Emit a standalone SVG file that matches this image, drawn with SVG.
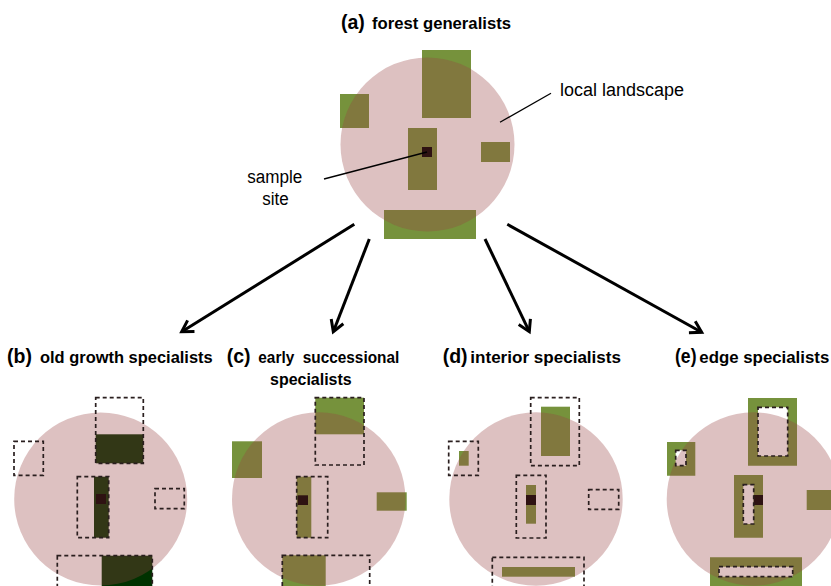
<svg xmlns="http://www.w3.org/2000/svg" width="831" height="586" viewBox="0 0 831 586">
<style>
.g{fill:#76923C}
.dk{fill:#003200}
.c{fill:#994242;fill-opacity:0.33}
.s{fill:#2E1212}
.d{fill:none;stroke:#2a1f1f;stroke-width:1.7;stroke-dasharray:4 3}
.fr{fill:#76923C;fill-rule:evenodd}
.t{font-family:"Liberation Sans",Arial,sans-serif;font-weight:bold;fill:#000}
.p{font-size:19.5px}
.h{font-size:16.5px}
.l{font-family:"Liberation Sans",Arial,sans-serif;font-size:18px;fill:#000}
.ar{fill:none;stroke:#000;stroke-width:3}
.ld{fill:none;stroke:#000;stroke-width:1.3}
</style>
<defs>
<marker id="ah" markerUnits="userSpaceOnUse" markerWidth="20" markerHeight="20" viewBox="-14 -10 20 20" refX="0" refY="0" orient="auto">
<path d="M-11,-6.5 L0,0 L-11,6.5" fill="none" stroke="#000" stroke-width="3"/>
</marker>
</defs>

<g id="titles">
<text class="t" y="29"><tspan class="p" x="341">(a)</tspan><tspan class="h" x="372" textLength="139" lengthAdjust="spacingAndGlyphs">forest generalists</tspan></text>
<text class="t" y="363.3"><tspan class="p" x="7">(b)</tspan><tspan class="h" x="40" textLength="172.7" lengthAdjust="spacingAndGlyphs">old growth specialists</tspan></text>
<text class="t" y="363.3" xml:space="preserve"><tspan class="p" x="226.7">(c)</tspan><tspan class="h" x="258.3" textLength="141" lengthAdjust="spacingAndGlyphs">early  successional</tspan></text>
<text class="t h" x="270" y="384.5" textLength="81.7" lengthAdjust="spacingAndGlyphs">specialists</text>
<text class="t" y="363.3"><tspan class="p" x="442.7">(d)</tspan><tspan class="h" x="470.3" textLength="150.7" lengthAdjust="spacingAndGlyphs">interior specialists</tspan></text>
<text class="t" y="363.3"><tspan class="p" x="675" textLength="21.5" lengthAdjust="spacingAndGlyphs">(e)</tspan><tspan class="h" x="699.3" textLength="130" lengthAdjust="spacingAndGlyphs">edge specialists</tspan></text>
</g>

<g id="panel-a">
<rect class="g" x="422" y="50" width="49" height="68"/>
<rect class="g" x="340" y="94" width="29" height="34"/>
<rect class="g" x="408" y="128" width="29" height="62"/>
<rect class="g" x="481" y="142" width="29" height="20"/>
<rect class="g" x="384" y="210" width="92" height="29"/>
<circle class="c" cx="427.5" cy="144.5" r="87"/>
<rect class="s" x="422" y="147" width="10" height="10"/>
</g>

<g id="labels-a">
<text class="l" x="560" y="96" textLength="124" lengthAdjust="spacingAndGlyphs">local landscape</text>
<text class="l" x="247.3" y="183.3" textLength="55" lengthAdjust="spacingAndGlyphs">sample</text>
<text class="l" x="262.3" y="205" textLength="26.4" lengthAdjust="spacingAndGlyphs">site</text>
<line class="ld" x1="500" y1="122.3" x2="551" y2="93.3"/>
<line class="ld" x1="324" y1="179" x2="427" y2="152"/>
</g>

<g id="panel-b">
<rect class="dk" x="95.7" y="434.3" width="47.6" height="29"/>
<rect class="dk" x="94" y="476.7" width="14.7" height="61"/>
<rect class="dk" x="101.7" y="555.7" width="50.6" height="35"/>
<circle class="c" cx="100.7" cy="499" r="86.5"/>
<rect class="s" x="96" y="494" width="10" height="10"/>
<rect class="d" x="95.7" y="397.7" width="47.6" height="65.6"/>
<rect class="d" x="14" y="441.3" width="29.3" height="34"/>
<rect class="d" x="77.3" y="476.7" width="31.4" height="61"/>
<rect class="d" x="155" y="488.7" width="29.3" height="20"/>
<rect class="d" x="57.3" y="555.7" width="95" height="40"/>
</g>

<g id="panel-c">
<rect class="g" x="315.3" y="397.7" width="48.7" height="36.6"/>
<rect class="g" x="232" y="441.3" width="30" height="36.7"/>
<rect class="g" x="296.7" y="476.7" width="14.6" height="61"/>
<rect class="g" x="376.7" y="492.3" width="30" height="18.4"/>
<rect class="g" x="282.3" y="555.3" width="43.4" height="35"/>
<circle class="c" cx="318.7" cy="499" r="86.7"/>
<rect class="s" x="297.7" y="495.3" width="10.3" height="9.7"/>
<rect class="d" x="315.3" y="397.7" width="48.7" height="67.3"/>
<rect class="d" x="296.7" y="476.7" width="31" height="61"/>
<rect class="d" x="282.3" y="555.3" width="87.4" height="40"/>
</g>

<g id="panel-d">
<rect class="g" x="541" y="406.7" width="29" height="49.3"/>
<rect class="g" x="459" y="451" width="9.7" height="14.7"/>
<rect class="g" x="526" y="485" width="10" height="38.7"/>
<rect class="g" x="502" y="567" width="73" height="9.7"/>
<circle class="c" cx="536" cy="499" r="86.7"/>
<rect class="s" x="526" y="495" width="10" height="10"/>
<rect class="d" x="530.7" y="397.7" width="48.6" height="68"/>
<rect class="d" x="448.7" y="441.3" width="29.6" height="34"/>
<rect class="d" x="516.3" y="475.3" width="29.7" height="62.7"/>
<rect class="d" x="588.7" y="489.7" width="30" height="19.6"/>
<rect class="d" x="492.3" y="557.3" width="91.7" height="40"/>
</g>

<g id="panel-e">
<path class="fr" d="M748,398h49v67.7h-49z M758,407.3v48.7h29.7v-48.7z"/>
<path class="fr" d="M667,442h28.3v33.7h-28.3z M675.7,450.3v15.4h10.3v-15.4z"/>
<path class="fr" d="M734,475h29v62.7h-29z M743.3,484.7v39.3h10.4v-39.3z"/>
<path class="fr" d="M710,557.3h92v35h-92z M719,566.7v10h73.7v-10z"/>
<rect class="g" x="806.7" y="490" width="30" height="20"/>
<circle class="c" cx="753.4" cy="499" r="86.7"/>
<rect class="s" x="753.7" y="495" width="9.3" height="10"/>
<rect class="d" x="758" y="407.3" width="29.7" height="48.7"/>
<rect class="d" x="675.7" y="450.3" width="10.3" height="15.4"/>
<rect class="d" x="743.3" y="484.7" width="10.4" height="39.3"/>
<rect class="d" x="719" y="566.7" width="73.7" height="10"/>
</g>

<g id="connectors">
<line class="ar" x1="354.3" y1="224.3" x2="181.7" y2="331.7" marker-end="url(#ah)"/>
<line class="ar" x1="369.3" y1="239" x2="333.3" y2="331.7" marker-end="url(#ah)"/>
<line class="ar" x1="485" y1="239" x2="529.3" y2="331.7" marker-end="url(#ah)"/>
<line class="ar" x1="507.3" y1="224.3" x2="701.7" y2="332.3" marker-end="url(#ah)"/>
</g>
</svg>
